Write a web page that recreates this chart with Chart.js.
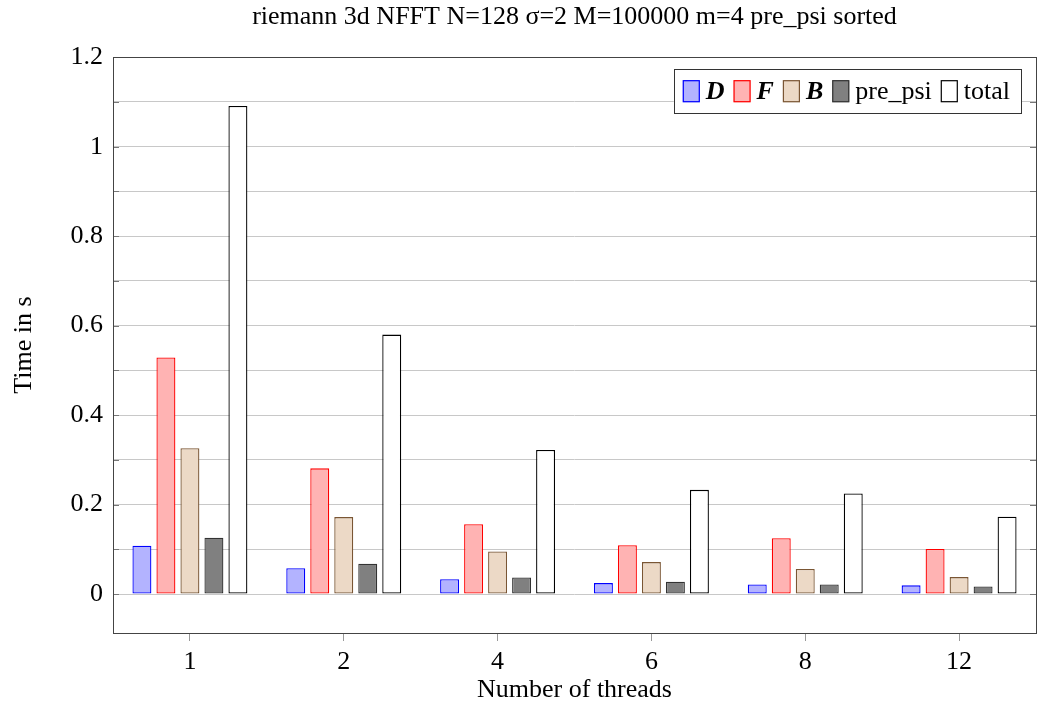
<!DOCTYPE html>
<html>
<head>
<meta charset="utf-8">
<script src="https://cdn.jsdelivr.net/npm/chart.js@4/dist/chart.umd.min.js"></script>
<style>
  html, body { margin: 0; padding: 0; background: #fff; }
  #wrap { width: 1044px; height: 706px; }
</style>
</head>
<body>
<div id="wrap"><canvas id="myChart" width="1044" height="706"></canvas></div>
<script>
// data
var threads = ['1', '2', '4', '6', '8', '12']
var dVals = [0.108, 0.058, 0.033, 0.0245, 0.0215, 0.0195]
var fVals = [0.529, 0.281, 0.156, 0.109, 0.125, 0.101]
var bVals = [0.326, 0.172, 0.095, 0.0715, 0.056, 0.038]
var preVals = [0.126, 0.068, 0.037, 0.0275, 0.0215, 0.017]
var totalVals = [1.091, 0.580, 0.322, 0.233, 0.225, 0.173]
var seriesNames = ['D', 'F', 'B', 'pre_psi', 'total']

var serif = "'Liberation Serif', 'DejaVu Serif', serif"
var fs = 26

// frame around the plot + small inner ticks like pgfplots
var frame = {
    id: 'frame',
    afterDatasetsDraw: function(chart) {
        var c = chart.ctx, a = chart.chartArea, ys = chart.scales.y
        c.save()
        c.strokeStyle = '#777'
        c.lineWidth = 1
        ys.ticks.forEach(function(t) {
            var py = Math.round(ys.getPixelForValue(t.value)) + 0.5
            c.beginPath()
            c.moveTo(a.left, py); c.lineTo(a.left + 6, py)
            c.moveTo(a.right, py); c.lineTo(a.right - 6, py)
            c.stroke()
        })
        c.strokeStyle = '#444'
        c.strokeRect(Math.round(a.left) + 0.5, Math.round(a.top) + 0.5,
            Math.round(a.right - a.left), Math.round(a.bottom - a.top))
        c.restore()
    }
}

// legend with mixed fonts (D, F, B bold italic)
var myLegend = {
    id: 'myLegend',
    afterDraw: function(chart) {
        var c = chart.ctx, a = chart.chartArea
        var ds = chart.data.datasets
        var bw = 17, bh = 22, gap = 6, gap2 = 9, pad = 9
        var fonts = ds.map(function(d, i) {
            return i < 3 ? 'bold italic ' + fs + 'px ' + serif : fs + 'px ' + serif
        })
        c.save()
        var w = pad
        ds.forEach(function(d, i) {
            c.font = fonts[i]
            w += bw + gap + c.measureText(d.label).width + gap2
        })
        w += pad + 2 - gap2
        var h = 44
        var x0 = a.right - 15 - w, y0 = a.top + 12
        c.fillStyle = '#fff'
        c.fillRect(x0, y0, w, h)
        c.strokeStyle = '#333'
        c.lineWidth = 1
        c.strokeRect(Math.round(x0) + 0.5, Math.round(y0) + 0.5, Math.round(w), h)
        var x = x0 + pad
        var cy = y0 + h / 2
        ds.forEach(function(d, i) {
            c.fillStyle = d.backgroundColor
            c.fillRect(x, cy - bh / 2, bw, bh)
            c.strokeStyle = d.borderColor
            c.lineWidth = 1.2
            c.strokeRect(x + 0.5, cy - bh / 2 + 0.5, bw - 1, bh - 1)
            x += bw + gap
            c.font = fonts[i]
            c.fillStyle = '#000'
            c.textBaseline = 'middle'
            c.fillText(d.label, x, cy + 1)
            x += c.measureText(d.label).width + gap2
        })
        c.restore()
    }
}

function mkSet(label, vals, fill, line) {
    return {
        label: label,
        data: vals,
        backgroundColor: fill,
        borderColor: line,
        borderWidth: 1.3,
        borderSkipped: false,
        categoryPercentage: 0.78,
        barPercentage: 0.79
    }
}

var ctx = document.getElementById('myChart').getContext('2d')
var chart1 = new Chart(ctx, {
    type: 'bar',
    plugins: [frame, myLegend],
    data: {
        labels: threads,
        datasets: [
            mkSet(seriesNames[0], dVals, '#b3b3ff', '#0000ff'),
            mkSet(seriesNames[1], fVals, '#ffb3b3', '#ff0000'),
            mkSet(seriesNames[2], bVals, '#ecd9c6', '#7a5634'),
            mkSet(seriesNames[3], preVals, '#808080', '#333333'),
            mkSet(seriesNames[4], totalVals, '#ffffff', '#000000')
        ]
    },
    options: {
        responsive: false,
        animation: false,
        layout: { padding: { left: 0, right: 8, top: 0, bottom: 0 } },
        plugins: {
            legend: { display: false },
            tooltip: { enabled: false },
            title: {
                display: true,
                fullSize: false,
                text: 'riemann 3d NFFT N=128 \u03c3=2 M=100000 m=4 pre_psi sorted',
                color: '#000',
                font: { family: serif, size: fs, weight: 'normal' },
                padding: { top: 2, bottom: 24 }
            }
        },
        scales: {
            x: {
                afterFit: function(s) { s.height = 73 },
                grid: {
                    display: true,
                    drawOnChartArea: false,
                    drawTicks: true,
                    tickLength: 8,
                    offset: false,
                    color: '#999'
                },
                border: { display: false },
                ticks: {
                    color: '#000',
                    padding: 6,
                    font: { family: serif, size: fs }
                },
                title: {
                    display: true,
                    text: 'Number of threads',
                    color: '#000',
                    font: { family: serif, size: fs },
                    padding: { top: 0, bottom: 0 }
                }
            },
            y: {
                min: -0.087,
                max: 1.2,
                afterFit: function(s) { s.width = 113 },
                afterBuildTicks: function(s) {
                    s.ticks = s.ticks.filter(function(t) { return t.value > -0.01 })
                },
                grid: {
                    color: '#c8c8c8',
                    drawTicks: false
                },
                border: { display: false },
                ticks: {
                    stepSize: 0.1,
                    padding: 10,
                    color: '#000',
                    font: { family: serif, size: fs },
                    callback: function(v) {
                        var k = Math.round(v * 10)
                        if (k % 2 !== 0) return ''
                        if (k === 0) return '0'
                        if (k === 10) return '1'
                        return (k / 10).toFixed(1)
                    }
                },
                title: {
                    display: true,
                    text: 'Time in s',
                    color: '#000',
                    font: { family: serif, size: fs },
                    padding: { top: 9, bottom: 0 }
                }
            }
        }
    }
})
</script>
</body>
</html>
